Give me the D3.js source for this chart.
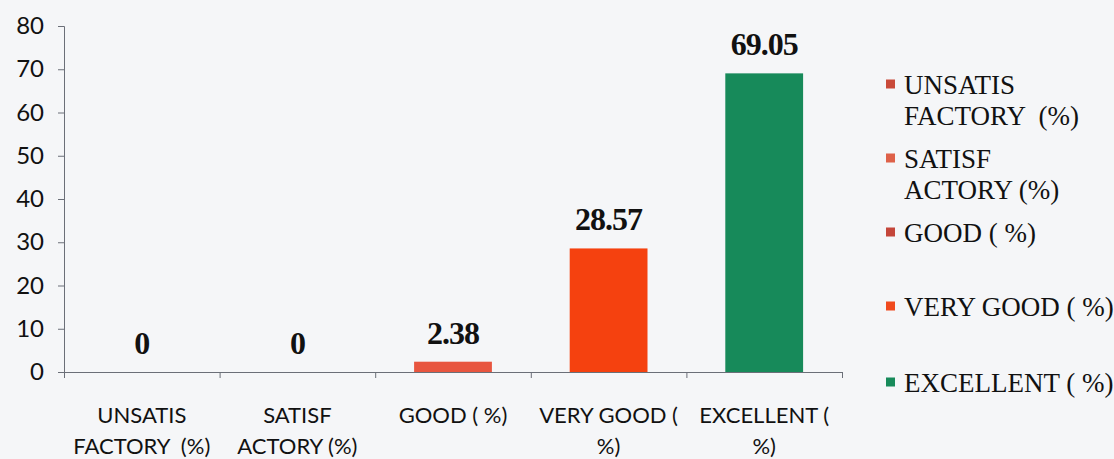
<!DOCTYPE html>
<html>
<head>
<meta charset="utf-8">
<script src="https://cdn.jsdelivr.net/npm/d3@7"></script>
<style>
  body { margin: 0; background: #f5f6f8; }
  svg { display: block; }
  text { white-space: pre; }
</style>
</head>
<body>
<div id="vis1"></div>
<script>
// chart data
const categories = ["UNSATIS FACTORY  (%)", "SATISF ACTORY (%)", "GOOD ( %)", "VERY GOOD ( %)", "EXCELLENT ( %)"];
const axisLabels = [["UNSATIS", "FACTORY  (%)"], ["SATISF", "ACTORY (%)"], ["GOOD ( %)"], ["VERY GOOD (", "%)"], ["EXCELLENT (", "%)"]];
const legendLabels = [["UNSATIS", "FACTORY  (%)"], ["SATISF", "ACTORY (%)"], ["GOOD ( %)"], ["VERY GOOD ( %)"], ["EXCELLENT ( %)"]];
const values = [0, 0, 2.38, 28.57, 69.05];
const yTicks = [0, 10, 20, 30, 40, 50, 60, 70, 80];

const barColors = ["#c94a3a", "#de6149", "#e8553f", "#f5410f", "#178a5a"];
const swatchColors = ["#c94a3a", "#de6149", "#c4463a", "#f04a1e", "#178a5a"];

const FRAME_WIDTH = 1114;
const FRAME_HEIGHT = 459;
const MARGINS = {left: 64, right: 272, top: 26, bottom: 87};

const VIS_WIDTH = FRAME_WIDTH - MARGINS.left - MARGINS.right;
const VIS_HEIGHT = FRAME_HEIGHT - MARGINS.top - MARGINS.bottom;

const FRAME1 = d3.select("#vis1")
  .append("svg")
    .attr("width", FRAME_WIDTH)
    .attr("height", FRAME_HEIGHT);

const X_SCALE = d3.scaleBand()
  .domain(categories)
  .range([0, VIS_WIDTH])
  .paddingInner(0.5)
  .paddingOuter(0.25);

const Y_SCALE = d3.scaleLinear()
  .domain([0, 80])
  .range([VIS_HEIGHT, 0]);

const g = FRAME1.append("g")
  .attr("transform", "translate(" + MARGINS.left + "," + MARGINS.top + ")");

// y axis
const yAxis = g.append("g")
  .call(d3.axisLeft(Y_SCALE).tickValues(yTicks).tickSize(6).tickPadding(14));
yAxis.select(".domain").attr("stroke", "#6b6f78");
yAxis.selectAll(".tick line").attr("stroke", "#6b6f78");
yAxis.selectAll("text")
  .attr("font-family", "Lato, 'Open Sans', sans-serif")
  .attr("font-size", "24px")
  .attr("fill", "#111");

// x axis: ticks at band boundaries
const xEdge = d3.scaleLinear().domain([0, categories.length]).range([0, VIS_WIDTH]);
const xAxis = g.append("g")
  .attr("transform", "translate(0," + VIS_HEIGHT + ")")
  .call(d3.axisBottom(xEdge).ticks(categories.length).tickSize(6).tickFormat(""));
xAxis.select(".domain").attr("stroke", "#6b6f78");
xAxis.selectAll(".tick line").attr("stroke", "#6b6f78");

// category labels
categories.forEach((c, i) => {
  const cx = X_SCALE(c) + X_SCALE.bandwidth() / 2;
  const t = g.append("text")
    .attr("x", cx)
    .attr("y", VIS_HEIGHT + 51)
    .attr("text-anchor", "middle")
    .attr("font-family", "Lato, 'Open Sans', sans-serif")
    .attr("font-size", "22px")
    .attr("fill", "#111");
  axisLabels[i].forEach((line, j) => {
    t.append("tspan")
      .attr("x", cx)
      .attr("dy", j === 0 ? 0 : 31)
      .text(line);
  });
});

// bars
g.selectAll(".bar")
  .data(values)
  .enter()
  .append("rect")
    .attr("class", "bar")
    .attr("x", (d, i) => X_SCALE(categories[i]))
    .attr("y", (d) => Y_SCALE(d))
    .attr("width", X_SCALE.bandwidth())
    .attr("height", (d) => VIS_HEIGHT - Y_SCALE(d))
    .attr("fill", (d, i) => barColors[i]);

// value labels
g.selectAll(".val")
  .data(values)
  .enter()
  .append("text")
    .attr("class", "val")
    .attr("x", (d, i) => X_SCALE(categories[i]) + X_SCALE.bandwidth() / 2)
    .attr("y", (d) => Y_SCALE(d) - 18)
    .attr("text-anchor", "middle")
    .attr("font-family", "'Liberation Serif', 'Times New Roman', serif")
    .attr("font-weight", "bold")
    .attr("font-size", "32px")
    .attr("letter-spacing", "-1px")
    .attr("fill", "#111")
    .text((d) => d);

// legend
const legendY = [84, 158, 232, 306, 382];
const legend = FRAME1.append("g").attr("transform", "translate(886,0)");
legendLabels.forEach((lines, i) => {
  legend.append("rect")
    .attr("x", 0)
    .attr("y", legendY[i] - 4.5)
    .attr("width", 9)
    .attr("height", 9)
    .attr("fill", swatchColors[i]);
  const t = legend.append("text")
    .attr("x", 18)
    .attr("y", legendY[i] + 10)
    .attr("font-family", "'Liberation Serif', 'Times New Roman', serif")
    .attr("font-size", "27px")
    .attr("fill", "#111");
  lines.forEach((line, j) => {
    t.append("tspan")
      .attr("x", 18)
      .attr("dy", j === 0 ? 0 : 31)
      .text(line);
  });
});
</script>
</body>
</html>
